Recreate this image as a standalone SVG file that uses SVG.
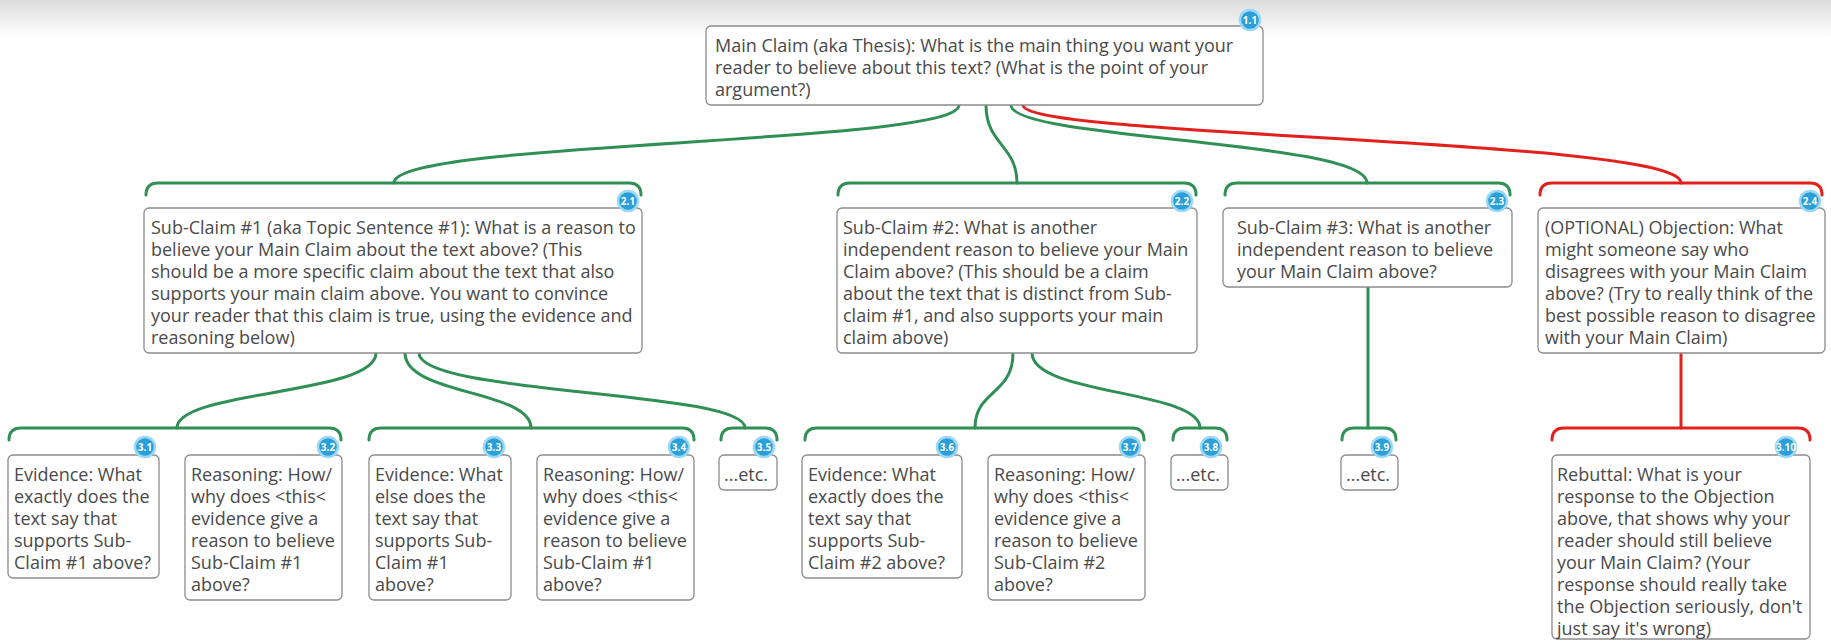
<svg xmlns="http://www.w3.org/2000/svg" width="1831" height="641" viewBox="0 0 1831 641">
<defs>
<linearGradient id="topg" x1="0" y1="0" x2="0" y2="1">
<stop offset="0" stop-color="#dcdcdc"/>
<stop offset="1" stop-color="#ffffff"/>
</linearGradient>
<style>
.box{fill:#fff;stroke:#8c8c8c;stroke-width:1.3}
.t{font-family:"Open Sans","Noto Sans","DejaVu Sans",sans-serif;font-size:18px;fill:#4a4a4a}
.g{fill:none;stroke:#2f8f55;stroke-width:3;stroke-linecap:round}
.r{fill:none;stroke:#e2201c;stroke-width:3;stroke-linecap:round}
.bc{fill:#2a9fd8;stroke:#9ad8f5;stroke-width:2.5}
.bt{font-family:"Open Sans","Noto Sans",sans-serif;font-size:10px;font-weight:bold;fill:#fff;text-anchor:middle}
</style>
</defs>
<rect x="0" y="0" width="1831" height="641" fill="#fff"/>
<rect x="0" y="0" width="1831" height="38" fill="url(#topg)"/>

<g id="connectors">
<path class="g" d="M959,105 C959,145 394,140 394,183"/>
<path class="g" d="M986,105 C986,145 1017,145 1017,183"/>
<path class="g" d="M1011,105 C1011,140 1367,140 1367,183"/>
<path class="r" d="M1023,105 C1023,138 1681,138 1681,183"/>
<path class="g" d="M146,195 Q146,183 158,183 L629,183 Q641,183 641,195"/>
<path class="g" d="M838,195 Q838,183 850,183 L1184,183 Q1196,183 1196,195"/>
<path class="g" d="M1225,195 Q1225,183 1237,183 L1498,183 Q1510,183 1510,195"/>
<path class="r" d="M1540,195 Q1540,183 1552,183 L1810,183 Q1822,183 1822,195"/>
<path class="g" d="M376,353 C376,395 177,390 177,428"/>
<path class="g" d="M405,353 C405,395 531,390 531,428"/>
<path class="g" d="M419,353 C419,395 745,390 745,428"/>
<path class="g" d="M1013,353 C1013,395 975,390 975,428"/>
<path class="g" d="M1032,353 C1032,395 1200,390 1200,428"/>
<path class="g" d="M1368,287 L1368,428"/>
<path class="r" d="M1681,353 L1681,428"/>
<path class="g" d="M9,440 Q9,428 21,428 L329,428 Q341,428 341,440"/>
<path class="g" d="M369,440 Q369,428 381,428 L682,428 Q694,428 694,440"/>
<path class="g" d="M721,440 Q721,428 733,428 L765,428 Q777,428 777,440"/>
<path class="g" d="M805,440 Q805,428 817,428 L1132,428 Q1144,428 1144,440"/>
<path class="g" d="M1173,440 Q1173,428 1185,428 L1215,428 Q1227,428 1227,440"/>
<path class="g" d="M1342,440 Q1342,428 1354,428 L1384,428 Q1396,428 1396,440"/>
<path class="r" d="M1552,440 Q1552,428 1564,428 L1798,428 Q1810,428 1810,440"/>
</g>

<g id="n1-1">
<rect class="box" x="706" y="26" width="557" height="79" rx="5"/>
<text class="t" x="715" y="52">Main Claim (aka Thesis): What is the main thing you want your</text>
<text class="t" x="715" y="74">reader to believe about this text? (What is the point of your</text>
<text class="t" x="715" y="96">argument?)</text>
<circle class="bc" cx="1250" cy="20" r="10"/><text class="bt" x="1250" y="23.5">1.1</text>
</g>

<g id="n2-1">
<rect class="box" x="144" y="208" width="498" height="145" rx="5"/>
<text class="t" x="151" y="234">Sub-Claim #1 (aka Topic Sentence #1): What is a reason to</text>
<text class="t" x="151" y="256">believe your Main Claim about the text above? (This</text>
<text class="t" x="151" y="278">should be a more specific claim about the text that also</text>
<text class="t" x="151" y="300">supports your main claim above. You want to convince</text>
<text class="t" x="151" y="322">your reader that this claim is true, using the evidence and</text>
<text class="t" x="151" y="344">reasoning below)</text>
<circle class="bc" cx="628" cy="201" r="10"/><text class="bt" x="628" y="204.5">2.1</text>
</g>

<g id="n2-2">
<rect class="box" x="837" y="208" width="360" height="145" rx="5"/>
<text class="t" x="843" y="234">Sub-Claim #2: What is another</text>
<text class="t" x="843" y="256">independent reason to believe your Main</text>
<text class="t" x="843" y="278">Claim above? (This should be a claim</text>
<text class="t" x="843" y="300">about the text that is distinct from Sub-</text>
<text class="t" x="843" y="322">claim #1, and also supports your main</text>
<text class="t" x="843" y="344">claim above)</text>
<circle class="bc" cx="1182" cy="201" r="10"/><text class="bt" x="1182" y="204.5">2.2</text>
</g>

<g id="n2-3">
<rect class="box" x="1223" y="208" width="289" height="79" rx="5"/>
<text class="t" x="1237" y="234">Sub-Claim #3: What is another</text>
<text class="t" x="1237" y="256">independent reason to believe</text>
<text class="t" x="1237" y="278">your Main Claim above?</text>
<circle class="bc" cx="1497" cy="201" r="10"/><text class="bt" x="1497" y="204.5">2.3</text>
</g>

<g id="n2-4">
<rect class="box" x="1538" y="208" width="287" height="145" rx="5"/>
<text class="t" x="1545" y="234">(OPTIONAL) Objection: What</text>
<text class="t" x="1545" y="256">might someone say who</text>
<text class="t" x="1545" y="278">disagrees with your Main Claim</text>
<text class="t" x="1545" y="300">above? (Try to really think of the</text>
<text class="t" x="1545" y="322">best possible reason to disagree</text>
<text class="t" x="1545" y="344">with your Main Claim)</text>
<circle class="bc" cx="1810" cy="201" r="10"/><text class="bt" x="1810" y="204.5">2.4</text>
</g>

<g id="n3-1">
<rect class="box" x="8" y="455" width="151" height="123" rx="5"/>
<text class="t" x="14" y="481">Evidence: What</text>
<text class="t" x="14" y="503">exactly does the</text>
<text class="t" x="14" y="525">text say that</text>
<text class="t" x="14" y="547">supports Sub-</text>
<text class="t" x="14" y="569">Claim #1 above?</text>
<circle class="bc" cx="145" cy="447" r="10"/><text class="bt" x="145" y="450.5">3.1</text>
</g>

<g id="n3-2">
<rect class="box" x="185" y="455" width="157" height="145" rx="5"/>
<text class="t" x="191" y="481">Reasoning: How/</text>
<text class="t" x="191" y="503">why does &lt;this&lt;</text>
<text class="t" x="191" y="525">evidence give a</text>
<text class="t" x="191" y="547">reason to believe</text>
<text class="t" x="191" y="569">Sub-Claim #1</text>
<text class="t" x="191" y="591">above?</text>
<circle class="bc" cx="328" cy="447" r="10"/><text class="bt" x="328" y="450.5">3.2</text>
</g>

<g id="n3-3">
<rect class="box" x="369" y="455" width="142" height="145" rx="5"/>
<text class="t" x="375" y="481">Evidence: What</text>
<text class="t" x="375" y="503">else does the</text>
<text class="t" x="375" y="525">text say that</text>
<text class="t" x="375" y="547">supports Sub-</text>
<text class="t" x="375" y="569">Claim #1</text>
<text class="t" x="375" y="591">above?</text>
<circle class="bc" cx="494" cy="447" r="10"/><text class="bt" x="494" y="450.5">3.3</text>
</g>

<g id="n3-4">
<rect class="box" x="537" y="455" width="157" height="145" rx="5"/>
<text class="t" x="543" y="481">Reasoning: How/</text>
<text class="t" x="543" y="503">why does &lt;this&lt;</text>
<text class="t" x="543" y="525">evidence give a</text>
<text class="t" x="543" y="547">reason to believe</text>
<text class="t" x="543" y="569">Sub-Claim #1</text>
<text class="t" x="543" y="591">above?</text>
<circle class="bc" cx="679" cy="447" r="10"/><text class="bt" x="679" y="450.5">3.4</text>
</g>

<g id="n3-5">
<rect class="box" x="719" y="455" width="58" height="35" rx="5"/>
<text class="t" x="724" y="481">...etc.</text>
<circle class="bc" cx="764" cy="447" r="10"/><text class="bt" x="764" y="450.5">3.5</text>
</g>

<g id="n3-6">
<rect class="box" x="802" y="455" width="160" height="123" rx="5"/>
<text class="t" x="808" y="481">Evidence: What</text>
<text class="t" x="808" y="503">exactly does the</text>
<text class="t" x="808" y="525">text say that</text>
<text class="t" x="808" y="547">supports Sub-</text>
<text class="t" x="808" y="569">Claim #2 above?</text>
<circle class="bc" cx="947" cy="447" r="10"/><text class="bt" x="947" y="450.5">3.6</text>
</g>

<g id="n3-7">
<rect class="box" x="988" y="455" width="157" height="145" rx="5"/>
<text class="t" x="994" y="481">Reasoning: How/</text>
<text class="t" x="994" y="503">why does &lt;this&lt;</text>
<text class="t" x="994" y="525">evidence give a</text>
<text class="t" x="994" y="547">reason to believe</text>
<text class="t" x="994" y="569">Sub-Claim #2</text>
<text class="t" x="994" y="591">above?</text>
<circle class="bc" cx="1130" cy="447" r="10"/><text class="bt" x="1130" y="450.5">3.7</text>
</g>

<g id="n3-8">
<rect class="box" x="1171" y="455" width="57" height="35" rx="5"/>
<text class="t" x="1176" y="481">...etc.</text>
<circle class="bc" cx="1211" cy="447" r="10"/><text class="bt" x="1211" y="450.5">3.8</text>
</g>

<g id="n3-9">
<rect class="box" x="1341" y="455" width="57" height="35" rx="5"/>
<text class="t" x="1346" y="481">...etc.</text>
<circle class="bc" cx="1382" cy="447" r="10"/><text class="bt" x="1382" y="450.5">3.9</text>
</g>

<g id="n3-10">
<rect class="box" x="1552" y="455" width="258" height="184" rx="5"/>
<text class="t" x="1557" y="481">Rebuttal: What is your</text>
<text class="t" x="1557" y="503">response to the Objection</text>
<text class="t" x="1557" y="525">above, that shows why your</text>
<text class="t" x="1557" y="547">reader should still believe</text>
<text class="t" x="1557" y="569">your Main Claim? (Your</text>
<text class="t" x="1557" y="591">response should really take</text>
<text class="t" x="1557" y="613">the Objection seriously, don't</text>
<text class="t" x="1557" y="635">just say it's wrong)</text>
<circle class="bc" cx="1786" cy="447" r="10"/><text class="bt" x="1786" y="450.5">3.10</text>
</g>
</svg>
